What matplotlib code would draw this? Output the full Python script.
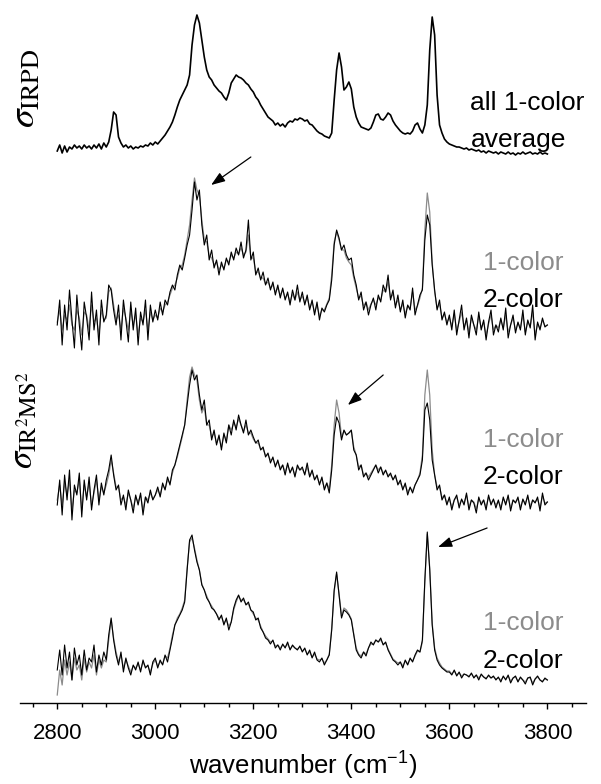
import numpy as np
import matplotlib
matplotlib.use("Agg")
import matplotlib.pyplot as plt
from matplotlib.ticker import MultipleLocator

# spectra, 2800-3800 cm-1 in 5 cm-1 steps, intensity above each trace's own baseline (arb. units)
irpd_avg = [
    4, 10, 2, 9, 3, 8, 6, 10, 7, 9, 6, 10, 7, 9, 6, 10, 7, 11, 6, 12,
    8, 13, 25, 43, 40, 18, 12, 8, 10, 7, 9, 6, 8, 7, 9, 8, 10, 9, 12, 10,
    13, 11, 14, 17, 20, 24, 28, 33, 40, 48, 55, 60, 65, 70, 80, 110, 130, 140, 132, 115,
    98, 85, 78, 75, 70, 67, 64, 62, 58, 55, 62, 72, 76, 80, 78, 77, 75, 72, 70, 66,
    63, 58, 55, 50, 46, 42, 38, 36, 34, 30, 32, 29, 31, 28, 32, 34, 33, 36, 35, 37,
    36, 34, 35, 31, 30, 27, 24, 22, 21, 19, 18, 17, 22, 55, 85, 102, 88, 65, 68, 73,
    66, 48, 38, 32, 28, 27, 26, 25, 27, 33, 40, 41, 36, 35, 38, 42, 40, 34, 30, 27,
    24, 22, 21, 22, 21, 24, 30, 32, 26, 22, 30, 50, 105, 138, 120, 60, 30, 22, 16, 13,
    11, 10, 9, 8, 8, 7, 6, 7, 5, 6, 5, 4, 5, 3, 4, 2, 4, 3, 2, 3,
    1, 3, 2, 1, 3, 1, 2, 0, 2, 1, 3, 1, 2, 3, 1, 2, 1, 3, 1, 2,
    1]

# panel 2
one_color_a = [
    8, 20, 0, 15, 10, 25, 5, 0, 20, 12, -5, 18, 15, 0, 25, 8, 12, -5, 20, 10,
    12, 38, 42, 25, 10, 15, 0, 22, 12, 0, 20, 5, 15, -5, 12, 8, 20, 0, 18, 10,
    15, 12, 22, 18, 25, 28, 35, 42, 45, 52, 62, 65, 75, 90, 105, 130, 152, 140, 135, 110,
    90, 88, 75, 72, 65, 68, 60, 65, 62, 70, 68, 75, 72, 78, 76, 82, 75, 78, 95, 72,
    72, 58, 58, 52, 52, 46, 48, 42, 45, 38, 42, 35, 40, 32, 36, 28, 36, 30, 38, 30,
    34, 27, 32, 22, 28, 18, 25, 14, 20, 20, 26, 32, 55, 88, 98, 90, 80, 80, 72, 68,
    65, 52, 42, 32, 34, 24, 28, 20, 26, 30, 25, 32, 30, 40, 38, 48, 32, 36, 25, 30,
    20, 26, 16, 24, 22, 38, 20, 24, 32, 42, 100, 137, 118, 68, 38, 22, 26, 12, 16, 8,
    12, 4, 16, 0, 8, 18, 3, 10, -2, 12, 5, 0, 14, 2, 8, -5, 6, 15, 0, 5,
    2, 10, 2, 15, -2, 5, 12, 0, 7, 2, 15, -2, 8, 4, 18, -5, 6, 2, 10, 4,
    5]
two_color_a = [
    5, 30, -15, 25, 0, 40, 10, -18, 35, 5, -20, 28, 12, -10, 38, 0, 20, -15, 30, 8,
    15, 45, 40, 20, 5, 25, -10, 30, 10, -12, 28, 0, 22, -15, 18, 5, 30, -10, 25, 8,
    20, 10, 28, 15, 30, 25, 38, 45, 40, 55, 65, 60, 72, 85, 95, 120, 148, 130, 140, 105,
    85, 95, 70, 80, 62, 70, 55, 68, 60, 72, 65, 78, 70, 82, 75, 88, 72, 80, 110, 70,
    78, 55, 62, 50, 58, 45, 52, 40, 48, 35, 45, 32, 42, 30, 38, 25, 40, 30, 45, 28,
    38, 25, 35, 20, 30, 15, 28, 10, 22, 18, 25, 30, 50, 85, 100, 92, 80, 85, 75, 70,
    72, 55, 45, 30, 38, 20, 28, 15, 25, 32, 20, 35, 28, 45, 38, 55, 30, 40, 22, 35,
    18, 30, 12, 25, 20, 42, 15, 25, 35, 40, 90, 115, 105, 65, 40, 20, 30, 10, 18, 5,
    15, 0, 20, -5, 10, 25, 0, 12, -8, 15, 5, -5, 18, 0, 10, -10, 8, 20, -5, 5,
    -2, 12, 0, 22, -8, 5, 15, -3, 8, 0, 20, -5, 10, 2, 25, -10, 8, 0, 12, 3,
    5]

# panel 3
one_color_b = [
    5, 20, 0, 22, 10, 25, -5, 15, 12, 25, -5, 20, 8, 22, 0, 12, 25, 5, 18, 12,
    20, 30, 45, 32, 18, 18, 5, 8, 0, 12, 5, -3, 8, 3, 10, -5, 8, 5, 12, 6,
    10, 15, 10, 20, 16, 25, 22, 32, 40, 48, 58, 68, 80, 105, 128, 138, 130, 125, 105, 92,
    98, 80, 80, 68, 72, 62, 68, 58, 70, 65, 80, 75, 82, 78, 86, 80, 74, 80, 72, 72,
    66, 62, 62, 56, 56, 50, 50, 45, 46, 40, 43, 37, 40, 33, 40, 33, 37, 30, 38, 35,
    36, 31, 38, 29, 33, 26, 28, 22, 26, 17, 22, 16, 40, 80, 105, 92, 68, 74, 70, 72,
    74, 58, 50, 38, 40, 30, 32, 28, 32, 36, 40, 35, 38, 32, 34, 30, 30, 26, 28, 22,
    22, 17, 20, 13, 17, 14, 20, 25, 32, 50, 110, 135, 110, 55, 30, 18, 18, 7, 10, 2,
    6, -2, 5, 8, 0, 5, 2, 10, -2, 5, 3, -4, 6, 2, 5, -2, 8, 2, 5, 0,
    4, -2, 6, 2, 8, -3, 5, 3, 6, -2, 5, 2, 8, -1, 5, 3, 6, -3, 9, 2,
    3]
two_color_b = [
    0, 25, -10, 30, 5, 35, -15, 20, 10, 32, -12, 25, 5, 28, -5, 15, 30, 0, 22, 10,
    25, 35, 50, 30, 15, 20, 0, 10, -5, 15, 5, -8, 10, 0, 12, -10, 8, 2, 15, 5,
    10, 18, 8, 22, 15, 28, 20, 35, 40, 50, 60, 70, 80, 100, 120, 135, 125, 130, 110, 95,
    105, 80, 85, 65, 75, 60, 70, 55, 72, 62, 80, 70, 85, 75, 90, 80, 72, 85, 70, 75,
    68, 62, 65, 55, 58, 48, 52, 42, 48, 38, 45, 35, 40, 30, 42, 32, 38, 28, 40, 35,
    38, 30, 42, 28, 35, 25, 30, 20, 28, 15, 22, 12, 35, 70, 88, 82, 65, 75, 70, 72,
    75, 55, 50, 35, 40, 28, 32, 25, 30, 35, 40, 32, 38, 30, 35, 28, 32, 25, 30, 20,
    25, 15, 22, 10, 18, 12, 20, 25, 30, 45, 95, 102, 85, 45, 30, 15, 20, 5, 10, 0,
    8, -5, 5, 10, -3, 6, 0, 12, -5, 5, 2, -8, 8, 0, 5, -5, 10, 0, 6, -3,
    5, -5, 8, 0, 10, -6, 5, 2, 8, -5, 6, 0, 10, -4, 5, 2, 8, -6, 12, 0,
    3]

# panel 4
one_color_c = [
    -15, 10, -5, 20, 5, 18, 0, 22, 10, 15, 0, 22, 8, 18, 12, 25, 5, 20, 12, 20,
    18, 40, 60, 42, 28, 18, 25, 12, 20, 14, 8, 14, 12, 16, 10, 18, 13, 14, 8, 16,
    20, 14, 18, 16, 24, 22, 32, 45, 55, 62, 66, 72, 80, 112, 138, 142, 132, 120, 110, 96,
    90, 84, 78, 74, 70, 66, 62, 63, 57, 60, 54, 58, 70, 78, 84, 80, 80, 76, 76, 70,
    66, 62, 60, 54, 48, 44, 41, 38, 39, 34, 35, 32, 35, 33, 36, 31, 34, 32, 31, 33,
    29, 31, 26, 28, 23, 26, 21, 20, 21, 17, 20, 26, 52, 88, 106, 86, 64, 72, 70, 66,
    61, 46, 32, 26, 24, 28, 26, 32, 36, 36, 40, 38, 40, 36, 37, 31, 26, 21, 19, 17,
    18, 14, 19, 16, 21, 19, 24, 29, 28, 38, 98, 146, 112, 57, 32, 22, 17, 13, 11, 9,
    9, 6, 9, 5, 7, 4, 6, 5, 4, 6, 3, 5, 2, 5, 3, 2, 4, 2, 3, 1,
    2, 0, 3, 1, 4, -1, 2, 3, -1, 2, 0, -2, 2, 2, -3, 1, 3, 0, -1, 1,
    0]
two_color_c = [
    10, 30, 5, 35, 12, 28, 0, 32, 15, 25, 5, 30, 10, 22, 18, 35, 8, 25, 15, 28,
    20, 45, 62, 40, 25, 15, 28, 8, 22, 12, 5, 15, 10, 18, 8, 20, 12, 15, 5, 18,
    22, 12, 20, 15, 25, 18, 30, 42, 55, 60, 65, 70, 78, 110, 140, 145, 130, 118, 110, 95,
    90, 82, 78, 72, 70, 66, 60, 65, 55, 62, 50, 58, 72, 80, 85, 78, 82, 75, 78, 70,
    68, 60, 62, 52, 48, 42, 40, 36, 40, 32, 35, 30, 36, 32, 38, 30, 35, 32, 30, 34,
    28, 32, 25, 30, 22, 28, 20, 18, 22, 15, 20, 25, 50, 90, 108, 85, 62, 70, 68, 65,
    60, 45, 30, 25, 22, 28, 24, 32, 38, 35, 40, 38, 42, 35, 38, 30, 25, 20, 18, 15,
    18, 12, 20, 15, 22, 18, 25, 30, 28, 40, 100, 148, 110, 55, 30, 20, 15, 12, 10, 8,
    8, 5, 10, 4, 8, 2, 6, 5, 3, 7, 2, 5, 0, 6, 3, 1, 5, 2, 4, 0,
    3, -2, 4, 0, 5, -3, 2, 4, -2, 3, 0, -4, 2, 3, -5, 1, 4, 0, -2, 2,
    0]

x_ticks = [2800, 3000, 3200, 3400, 3600, 3800]
pair_labels = ["1-color", "2-color"]

plt.rcParams['font.family'] = ['Liberation Sans', 'DejaVu Sans']
plt.rcParams['mathtext.fontset'] = 'custom'
plt.rcParams['mathtext.rm'] = 'Liberation Sans'
plt.rcParams['mathtext.it'] = 'Liberation Sans:italic'

W, H = 601, 784
GREY = '#8c8c8c'


def fx(px):
    return px / W


def fy(py):
    return 1 - py / H


def wn(vals):
    return np.linspace(2800, 3800, len(vals))


fig = plt.figure(figsize=(W / 100, H / 100), dpi=100)
ax = fig.add_axes([fx(20), fy(703), 565.6 / W, 703 / H])
ax.set_xlim(2724, 3878)
ax.set_ylim(0, 703)

# baselines for the stacked traces
base1, base2, base3, base4 = 548, 373, 198, 23

ax.plot(wn(irpd_avg), np.array(irpd_avg) + base1, color='black', lw=1.2)
for one, two, b in [(one_color_a, two_color_a, base2),
                    (one_color_b, two_color_b, base3),
                    (one_color_c, two_color_c, base4)]:
    ax.plot(wn(one), np.array(one) + b, color=GREY, lw=0.9)
    ax.plot(wn(two), np.array(two) + b, color='black', lw=0.8)

# arrows marking the changes
arr = dict(arrowstyle='-|>,head_length=0.6,head_width=0.22', color='black',
           lw=0.9, mutation_scale=14, shrinkA=0, shrinkB=0)
ax.annotate('', xy=(3114, 518), xytext=(3195, 546), arrowprops=arr)
ax.annotate('', xy=(3393, 298), xytext=(3465, 328), arrowprops=arr)
ax.annotate('', xy=(3577, 156), xytext=(3677, 175), arrowprops=arr)

for s in ['left', 'right', 'top']:
    ax.spines[s].set_visible(False)
ax.spines['bottom'].set_linewidth(1.0)
ax.set_yticks([])
ax.set_xticks(x_ticks)
ax.xaxis.set_minor_locator(MultipleLocator(50))
ax.tick_params(axis='x', which='major', length=4.5, width=1.0, labelsize=16, pad=10)
ax.tick_params(axis='x', which='minor', length=3, width=1.0)

fig.text(fx(303), fy(766), 'wavenumber (cm$^{-1}$)', fontsize=18.5, ha='center', va='center')

# sigma labels
fig.text(fx(25), fy(88), r'$\sigma_{\mathrm{IRPD}}$', rotation=90, fontsize=27,
         math_fontfamily='stix', ha='center', va='center')
fig.text(fx(24), fy(420), r'$\sigma_{\mathrm{IR^2MS^2}}$', rotation=90, fontsize=25,
         math_fontfamily='stix', ha='center', va='center')

fig.text(fx(470), fy(103), 'all 1-color', fontsize=19, ha='left', va='center')
fig.text(fx(471), fy(140), 'average', fontsize=19, ha='left', va='center')
for y1, y2 in [(263, 300), (440, 477), (623, 661)]:
    fig.text(fx(483), fy(y1), pair_labels[0], fontsize=19, color=GREY, ha='left', va='center')
    fig.text(fx(483), fy(y2), pair_labels[1], fontsize=19, color='black', ha='left', va='center')

plt.savefig('out.png', dpi=100)
